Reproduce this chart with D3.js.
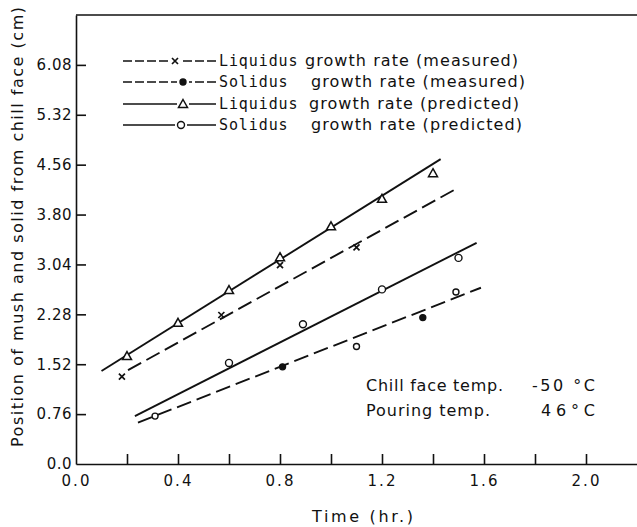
<!DOCTYPE html>
<html>
<head>
<meta charset="utf-8">
<script src="https://cdn.jsdelivr.net/npm/d3@7"></script>
<style>
body { margin:0; background:#fff; }
svg { display:block; }
.tick text { font-family:"DejaVu Sans", sans-serif; font-size:15px; fill:#111; }
.domain, .tick line { stroke:#111; stroke-width:1.6; }
.label { font-family:"DejaVu Sans", sans-serif; font-size:16px; fill:#111; }
</style>
</head>
<body>
<svg id="chart"></svg>
<script>
// tick values
var xTicks = [0.2,0.4,0.6,0.8,1.0,1.2,1.4,1.6,1.8,2.0];
var xLabelTicks = [0.0,0.4,0.8,1.2,1.6,2.0];
var yTicks = [0.0,0.76,1.52,2.28,3.04,3.80,4.56,5.32,6.08];

// measured liquidus (x marks)
var liqMeasured = [[0.18,1.33],[0.57,2.27],[0.80,3.03],[1.10,3.30]];
// measured solidus (dots)
var solMeasured = [[0.31,0.73],[0.81,1.48],[1.10,1.79],[1.36,2.23],[1.49,2.62]];
var solMeasuredFilled = [false,true,false,true,false];
// predicted liquidus (triangles)
var liqPredicted = [[0.2,1.645],[0.4,2.15],[0.6,2.65],[0.8,3.15],[1.0,3.62],[1.2,4.04],[1.4,4.43]];
// predicted solidus (open circles)
var solPredicted = [[0.60,1.54],[0.89,2.13],[1.20,2.66],[1.50,3.14]];

// fitted lines, end points
var liqMeasuredLine = [[0.204,1.43],[1.49,4.19]];
var solMeasuredLine = [[0.243,0.63],[1.588,2.685]];
var liqPredictedLine = [[0.10,1.416],[1.43,4.645]];
var solPredictedLine = [[0.231,0.73],[1.571,3.37]];

var legendNames = ["Liquidus","Solidus","Liquidus","Solidus"];
var legendRest = ["growth rate (measured)","growth rate (measured)","growth rate (predicted)","growth rate (predicted)"];

var screen = {width:637,height:527};
var margins = {left:76,right:0,top:15,bottom:63};
var graph = {
    width:screen.width-margins.left-margins.right,
    height:screen.height-margins.top-margins.bottom
};

var svg = d3.select("#chart")
    .attr("width",screen.width)
    .attr("height",screen.height);

var xScale = d3.scaleLinear().domain([0,2.2]).range([0,graph.width]);
var yScale = d3.scaleLinear().domain([0,6.84]).range([graph.height,0]);

var plot = svg.append("g")
    .attr("transform","translate("+margins.left+","+margins.top+")");

// axes with inward ticks
var xAxis = d3.axisBottom(xScale)
    .tickValues(xTicks.concat([0.0]))
    .tickSizeInner(-10).tickSizeOuter(0).tickPadding(8)
    .tickFormat(function(d){
        var keep = xLabelTicks.some(function(v){return Math.abs(v-d)<1e-6;});
        return keep ? d.toFixed(1) : "";
    });
var gx = plot.append("g")
    .attr("transform","translate(0,"+graph.height+")")
    .call(xAxis);
gx.selectAll(".tick text").attr("dy","0.9em").attr("letter-spacing","2px");
gx.selectAll(".tick").filter(function(d){return d===0;}).select("line").remove();

var yAxis = d3.axisLeft(yScale)
    .tickValues(yTicks)
    .tickSizeInner(-10).tickSizeOuter(0).tickPadding(4)
    .tickFormat(function(d){ return d===0 ? "0.0" : d.toFixed(2); });
var gy = plot.append("g").call(yAxis);
gy.selectAll(".tick text").attr("letter-spacing","0.5px");
gy.selectAll(".tick").filter(function(d){return d===0;}).select("line").remove();

// top frame line
plot.append("line")
    .attr("x1",0).attr("x2",graph.width)
    .attr("y1",0).attr("y2",0)
    .attr("stroke","#111").attr("stroke-width",1.6);

var drawLine = function(pts,dashed){
    var gen = d3.line()
        .x(function(d){return xScale(d[0]);})
        .y(function(d){return yScale(d[1]);});
    plot.append("path")
        .datum(pts)
        .attr("d",gen)
        .attr("fill","none")
        .attr("stroke","#111")
        .attr("stroke-width",1.9)
        .attr("stroke-dasharray",dashed ? "15,6" : null);
};
drawLine(liqPredictedLine,false);
drawLine(liqMeasuredLine,true);
drawLine(solPredictedLine,false);
drawLine(solMeasuredLine,true);

// marker shapes
var triangle = function(g){
    g.append("path").attr("d","M0,-4.5L4.5,3.5L-4.5,3.5Z")
        .attr("fill","#fff").attr("stroke","#111").attr("stroke-width",1.5);
};
var cross = function(g){
    g.append("path").attr("d","M-3,-3L3,3M3,-3L-3,3")
        .attr("stroke","#111").attr("stroke-width",1.7);
};
var openCircle = function(g){
    g.append("circle").attr("r",3.5)
        .attr("fill","#fff").attr("stroke","#111").attr("stroke-width",1.4);
};
var dot = function(g,filled){
    g.append("circle").attr("r",3)
        .attr("fill",filled ? "#111" : "#fff").attr("stroke","#111").attr("stroke-width",1.4);
};

var drawMarks = function(pts,shape,flags){
    pts.forEach(function(d,i){
        var g = plot.append("g")
            .attr("transform","translate("+xScale(d[0])+","+yScale(d[1])+")");
        shape(g, flags ? flags[i] : undefined);
    });
};
drawMarks(liqPredicted,triangle);
drawMarks(liqMeasured,cross);
drawMarks(solPredicted,openCircle);
drawMarks(solMeasured,dot,solMeasuredFilled);

// legend
var legendRows = [61,82,104,125];
var legendMarkX = [175,183,183,181];
var legendShape = [cross,function(g){dot(g,true);},triangle,openCircle];
var legendDash = ["9,3","9,3",null,null];
var legendRestX = [305,311,309,311];
var legendRestLen = [213,214,210,211];
var legend = svg.append("g");
legendRows.forEach(function(y,i){
    legend.append("line")
        .attr("x1",123).attr("x2",216)
        .attr("y1",y).attr("y2",y)
        .attr("stroke","#111").attr("stroke-width",1.7)
        .attr("stroke-dasharray",legendDash[i]);
    var bg = legend.append("g").attr("transform","translate("+legendMarkX[i]+","+y+")");
    bg.append("rect").attr("x",-6).attr("y",-5).attr("width",12).attr("height",10).attr("fill","#fff");
    legendShape[i](bg);
    legend.append("text").attr("x",219).attr("y",y+5)
        .attr("fill","#111")
        .attr("font-family","'DejaVu Sans Mono', monospace")
        .attr("font-size","15px").attr("letter-spacing","0.9px")
        .text(legendNames[i]);
    legend.append("text").attr("class","label")
        .attr("x",legendRestX[i]).attr("y",y+5)
        .attr("textLength",legendRestLen[i]).attr("lengthAdjust","spacing")
        .text(legendRest[i]);
});

// notes on conditions
var notes = svg.append("g");
notes.append("text").attr("class","label").attr("x",366).attr("y",391)
    .attr("textLength",137).attr("lengthAdjust","spacing").text("Chill face temp.");
notes.append("text").attr("class","label").attr("x",532).attr("y",391)
    .attr("textLength",63).attr("lengthAdjust","spacing").text("-50 °C");
notes.append("text").attr("class","label").attr("x",366).attr("y",416)
    .attr("textLength",124).attr("lengthAdjust","spacing").text("Pouring temp.");
notes.append("text").attr("class","label").attr("x",541).attr("y",416)
    .attr("textLength",54).attr("lengthAdjust","spacing").text("46°C");

// axis titles
svg.append("text").attr("class","label")
    .attr("x",312).attr("y",522)
    .attr("textLength",101).attr("lengthAdjust","spacing")
    .text("Time  (hr.)");

svg.append("g")
    .attr("transform","translate(23,227)")
    .append("text").attr("class","label")
    .attr("text-anchor","middle")
    .attr("transform","rotate(-90)")
    .attr("textLength",440).attr("lengthAdjust","spacing")
    .text("Position of mush and solid from chill face (cm)");
</script>
</body>
</html>
